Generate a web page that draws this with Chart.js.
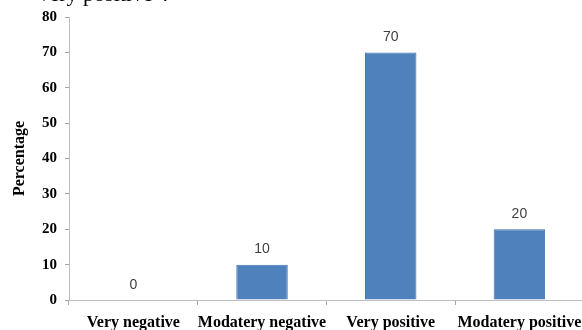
<!DOCTYPE html>
<html>
<head>
<meta charset="utf-8">
<script src="https://cdn.jsdelivr.net/npm/chart.js@4.4.1/dist/chart.umd.min.js"></script>
<style>
  html, body { margin: 0; padding: 0; background: #fff; overflow: hidden; width: 582px; height: 330px; }
  #wrap { position: relative; width: 590px; height: 330px; }
  #caption { position: absolute; left: 0; top: -17px; width: 168px; text-align: right; white-space: nowrap;
             font: 22px 'Liberation Serif', 'Times New Roman', serif; line-height: 22px; color: #000; }
  canvas { position: absolute; left: 0; top: 0; }
</style>
</head>
<body>
<div id="wrap">
  <canvas id="c" width="590" height="330"></canvas>
  <div id="caption">Very positive”.</div>
</div>
<script>
// Share of respondents by attitude
const categories = ['Very negative', 'Modatery negative', 'Very positive', 'Modatery positive'];
const percentages = [0, 10, 70, 20];
const yTicks = [0, 10, 20, 30, 40, 50, 60, 70, 80];

const serif = "'Liberation Serif', 'Times New Roman', serif";

// Writes each bar's value just above its top
const valueLabels = {
  id: 'valueLabels',
  afterDatasetsDraw(chart) {
    const ctx = chart.ctx;
    const meta = chart.getDatasetMeta(0);
    ctx.save();
    ctx.font = "14px 'Liberation Sans', Arial, sans-serif";
    ctx.fillStyle = '#404040';
    ctx.textAlign = 'center';
    ctx.textBaseline = 'middle';
    meta.data.forEach((bar, i) => {
      ctx.fillText(String(percentages[i]), bar.x, bar.y - 15);
    });
    ctx.restore();
  }
};

new Chart(document.getElementById('c'), {
  type: 'bar',
  data: {
    labels: categories,
    datasets: [{
      data: percentages,
      backgroundColor: '#4F81BD',
      borderColor: '#3F71AD',
      borderWidth: 1,
      barPercentage: 0.4,
      categoryPercentage: 1.0
    }]
  },
  options: {
    responsive: false,
    animation: false,
    devicePixelRatio: 1,
    layout: { padding: { top: 17, right: 5, left: 0, bottom: 0 } },
    plugins: { legend: { display: false }, tooltip: { enabled: false } },
    scales: {
      x: {
        grid: { display: true, drawOnChartArea: false, drawTicks: true, tickLength: 5, color: '#A6A6A6', offset: true },
        border: { display: true, color: '#BFBFBF', width: 1 },
        ticks: { color: '#000', font: { family: serif, size: 16, weight: 'bold' }, padding: 8, maxRotation: 0, autoSkip: false },
        afterFit(scale) { scale.height = 30; }
      },
      y: {
        min: 0,
        max: 80,
        afterBuildTicks(scale) { scale.ticks = yTicks.map(v => ({ value: v })); },
        grid: { display: true, drawOnChartArea: false, drawTicks: true, tickLength: 4, color: '#A6A6A6' },
        border: { display: true, color: '#BFBFBF', width: 1 },
        ticks: { color: '#000', font: { family: serif, size: 15, weight: 'bold' }, padding: 8 },
        title: { display: true, text: 'Percentage', color: '#000', font: { family: serif, size: 16, weight: 'bold' }, padding: { top: 10, bottom: 0 } },
        afterFit(scale) { scale.width = 69; }
      }
    }
  },
  plugins: [valueLabels]
});
</script>
</body>
</html>
